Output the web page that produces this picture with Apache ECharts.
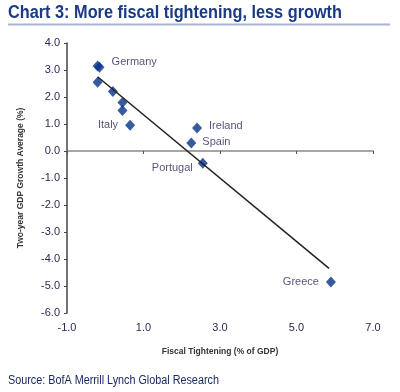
<!DOCTYPE html>
<html><head><meta charset="utf-8">
<script src="https://cdn.jsdelivr.net/npm/echarts@6/dist/echarts.min.js"></script>
<style>html,body{margin:0;padding:0;background:#fff}#c{width:400px;height:392px}</style>
</head><body><div id="c"></div>
<script>
var countries = ['Germany', '', '', '', '', '', 'Italy', 'Ireland', 'Spain', 'Portugal', 'Greece'];
var fiscalTightening = [-0.2, -0.15, -0.2, 0.2, 0.45, 0.45, 0.65, 2.4, 2.25, 2.55, 5.9];
var gdpGrowth = [3.15, 3.1, 2.55, 2.2, 1.8, 1.5, 0.95, 0.85, 0.3, -0.45, -4.85];
var trendX = [-0.2, 5.85];
var trendY = [2.75, -4.35];
var xTicks = [-1, 1, 3, 5, 7];
var yTicks = [-6, -5, -4, -3, -2, -1, 0, 1, 2, 3, 4];

var labelCfg = {
  'Germany': {position: 'right', offset: [4, -4]},
  'Italy': {position: 'left', offset: [-2, 0]},
  'Ireland': {position: 'right', offset: [2, -2]},
  'Spain': {position: 'right', offset: [1, -1]},
  'Portugal': {position: 'left', offset: [0, 5]},
  'Greece': {position: 'left', offset: [-2, 0]}
};
var navy = '#08308a';
var txt = '#2a2a5a';
var pts = fiscalTightening.map(function (x, i) {
  var name = countries[i];
  var d = {value: [x, gdpGrowth[i]], name: name};
  if (name && labelCfg[name]) {
    d.label = {show: true, formatter: name, position: labelCfg[name].position, offset: labelCfg[name].offset,
      color: txt, fontSize: 11, fontFamily: 'Liberation Sans'};
  }
  return d;
});
var chart = echarts.init(document.getElementById('c'));
chart.setOption({
  animation: false,
  graphic: [
    {type: 'text', x: 8, y: 4, scaleX: 0.905, style: {text: 'Chart 3: More fiscal tightening, less growth',
      font: 'bold 18px "Liberation Sans"', fill: '#1a3a86'}},
    {type: 'line', shape: {x1: 8, y1: 24.5, x2: 390, y2: 24.5}, style: {stroke: '#a8b4d0', lineWidth: 2}},
    {type: 'text', x: 8, y: 375, scaleX: 0.9, style: {text: 'Source: BofA Merrill Lynch Global Research',
      font: '12px "Liberation Sans"', fill: '#1a2a60'}}
  ],
  grid: {left: 67, right: 27, top: 43, bottom: 79},
  xAxis: [
    {type: 'value', min: xTicks[0], max: xTicks[xTicks.length - 1], interval: 2,
      axisLine: {show: true, onZero: true, lineStyle: {color: '#888', width: 1.5}},
      axisTick: {show: true, inside: false, length: 3, lineStyle: {color: '#555'}},
      axisLabel: {show: false}, splitLine: {show: false}},
    {type: 'value', position: 'bottom', min: xTicks[0], max: xTicks[xTicks.length - 1], interval: 2,
      axisLine: {show: false, onZero: false}, axisTick: {show: false}, splitLine: {show: false},
      axisLabel: {show: true, margin: 9, color: txt, fontSize: 11, fontFamily: 'Liberation Sans',
        formatter: function (v) { return v.toFixed(1); }},
      name: 'Fiscal Tightening (% of GDP)', nameLocation: 'middle', nameGap: 34,
      nameTextStyle: {fontFamily: 'Liberation Sans', fontWeight: 'bold', fontSize: 8.5, color: '#333'}}
  ],
  yAxis: {type: 'value', min: yTicks[0], max: yTicks[yTicks.length - 1], interval: 1,
    axisLine: {show: true, onZero: false, lineStyle: {color: '#444', width: 1.5}},
    axisTick: {show: true, length: 3, lineStyle: {color: '#444'}},
    splitLine: {show: false},
    axisLabel: {margin: 7, color: txt, fontSize: 11, fontFamily: 'Liberation Sans',
      formatter: function (v) { return v.toFixed(1); }},
    name: 'Two-year GDP Growth Average (%)', nameLocation: 'middle', nameGap: 42, nameRotate: 90,
    nameTextStyle: {fontFamily: 'Liberation Sans', fontWeight: 'bold', fontSize: 8.5, color: '#333'}},
  series: [
    {type: 'line', xAxisIndex: 0, data: trendX.map(function (x, i) { return [x, trendY[i]]; }),
      symbol: 'none', lineStyle: {color: '#222', width: 1.5}, silent: true},
    {type: 'scatter', xAxisIndex: 0, data: pts, symbol: 'diamond', symbolSize: [10, 11],
      itemStyle: {color: navy}}
  ]
});
</script></body></html>
